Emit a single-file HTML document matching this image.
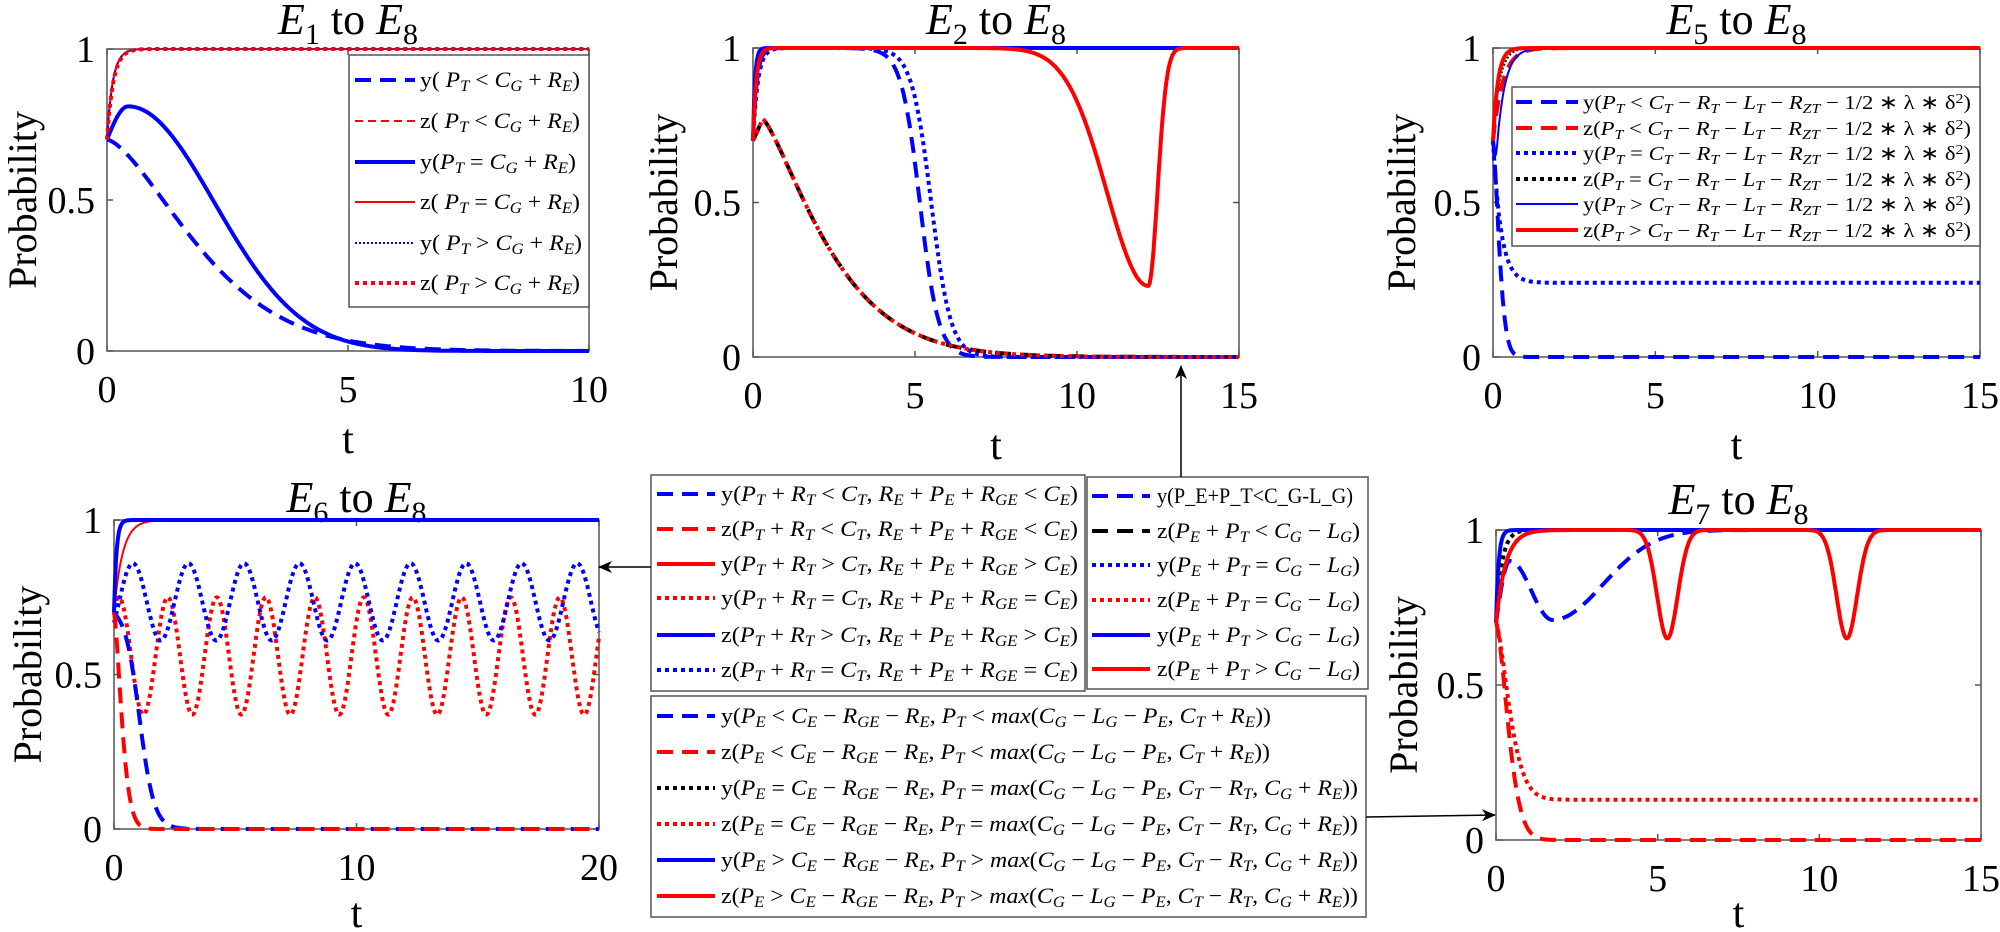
<!DOCTYPE html>
<html><head><meta charset="utf-8"><style>
html,body{margin:0;padding:0;background:#fff;}
svg{display:block;}
text{font-family:"Liberation Serif",serif;fill:#000;}
</style></head><body>
<svg id="s" width="2000" height="932" viewBox="0 0 2000 932" xmlns="http://www.w3.org/2000/svg">
<defs>
<marker id="ah" markerWidth="14" markerHeight="12" refX="13" refY="6" orient="auto" markerUnits="userSpaceOnUse">
<path d="M0,0 L14,6 L0,12 L4,6 Z" fill="#000"/></marker>
</defs>
<g id="g"></g>
</svg>
<script>
const B='#0000ff',R='#ff0000',K='#000000';
const ST={
 dashT:{w:4,d:'16 9'}, dashN:{w:2,d:'8 5'}, solT:{w:4,d:''}, solN:{w:2,d:''},
 dotT:{w:4,d:'4 4'}, dotN:{w:2,d:'2 2'}
};
let out='';
const E=Math.exp;
const sat=(t,tau)=>1-0.3*E(-t/tau);
function esc(c){return c=='<'?'&lt;':c=='>'?'&gt;':c=='&'?'&amp;':c;}
function mk(s,plain){
 let o='',i=0;
 while(i<s.length){
  let c=s[i];
  if(!plain&&(c=='_'||c=='^')){
   let g; if(s[i+1]=='{'){let j=s.indexOf('}',i);g=s.slice(i+2,j);i=j+1;} else {g=s[i+1];i+=2;}
   o+=`<tspan font-size="70%" baseline-shift="${c=='_'?'-25%':'45%'}" font-style="${/[A-Za-z]/.test(g)?'italic':'normal'}">${g}</tspan>`;
  } else if(!plain&&/[A-Za-z]/.test(c)&&i>1){
   let j=i; while(j<s.length&&/[A-Za-z]/.test(s[j]))j++;
   o+=`<tspan font-style="italic">${s.slice(i,j)}</tspan>`; i=j;
  } else {o+=esc(c);i++;}
 }
 return o;
}
function panel(p){
 const {x0,x1,T,yt,yb,ticks,title,sub,ylx}=p;
 const X=t=>x0+(x1-x0)*t/T, Y=v=>yb-(yb-yt)*v;
 out+=`<rect x="${x0}" y="${yt}" width="${x1-x0}" height="${yb-yt}" fill="#fff" stroke="#555" stroke-width="1.5"/>`;
 for(const tk of ticks){const x=X(tk);
  out+=`<line x1="${x}" y1="${yb}" x2="${x}" y2="${yb-6}" stroke="#555" stroke-width="1.5"/><line x1="${x}" y1="${yt}" x2="${x}" y2="${yt+6}" stroke="#555" stroke-width="1.5"/>`;
  out+=`<text x="${x}" y="${yb+51}" font-size="38" text-anchor="middle">${tk}</text>`;}
 for(const v of [0,0.5,1]){const y=Y(v);
  out+=`<line x1="${x0}" y1="${y}" x2="${x0+6}" y2="${y}" stroke="#555" stroke-width="1.5"/><line x1="${x1}" y1="${y}" x2="${x1-6}" y2="${y}" stroke="#555" stroke-width="1.5"/>`;
  out+=`<text x="${x0-12}" y="${y+13}" font-size="38" text-anchor="end">${v}</text>`;}
 out+=`<text x="${(x0+x1)/2}" y="${Math.min(yb+102,927)}" font-size="42" text-anchor="middle">t</text>`;
 const cy=(yt+yb)/2;
 out+=`<text x="${ylx}" y="${cy}" font-size="40" text-anchor="middle" transform="rotate(-90 ${ylx} ${cy})" dy="14">Probability</text>`;
 out+=`<text x="${(x0+x1)/2}" y="${p.ty}" font-size="44" text-anchor="middle"><tspan font-style="italic">E</tspan><tspan font-size="30" baseline-shift="-10">${sub}</tspan> to <tspan font-style="italic">E</tspan><tspan font-size="30" baseline-shift="-10">8</tspan></text>`;
 for(const [f,col,st] of p.curves){
  let d='';const N=500;
  for(let i=0;i<=N;i++){const t=T*i/N;d+=(i?'L':'M')+X(t).toFixed(1)+','+Y(f(t)).toFixed(1);}
  const s=ST[st];
  out+=`<path d="${d}" fill="none" stroke="${col}" stroke-width="${s.w}" ${s.d?`stroke-dasharray="${s.d}"`:''} stroke-linejoin="round"/>`;
 }
}
function legend(x,y,w,h,rows,sx0,sx1,tx,tw,fs,rowsY,plainFirst){
 out+=`<rect x="${x}" y="${y}" width="${w}" height="${h}" fill="#fff" stroke="#555" stroke-width="1.5"/>`;
 rows.forEach((r,i)=>{const [col,st,txt,tl]=r;const yy=rowsY[i];const s=ST[st];
  out+=`<line x1="${sx0}" y1="${yy}" x2="${sx1}" y2="${yy}" stroke="${col}" stroke-width="${s.w}" ${s.d?`stroke-dasharray="${s.d}"`:''}/>`;
  const plain=(plainFirst&&i==0);
  out+=`<text x="${tx}" y="${yy+7}" font-size="${fs}" textLength="${tl||tw}" lengthAdjust="spacingAndGlyphs">${mk(txt,plain)}</text>`;
 });
}
panel({x0:107,x1:589,T:10,yt:49,yb:351,ticks:[0,5,10],sub:'1',ty:34,ylx:22,curves:[
 [t=>0.7*E(-Math.pow(t/2.4,1.5)),B,'dashT'],
 [t=>t<0.44?0.7+0.11*Math.sin(Math.PI/2*t/0.44):0.81*E(-Math.pow((t-0.44)/2.53,2)),B,'solT'],
 [t=>sat(t,0.12),R,'dashN'],
 [t=>sat(t,0.12),R,'solN'],
 [t=>sat(t,0.12),B,'dotN'],
 [t=>sat(t,0.13),R,'dotT'],
]});
legend(349,55,240,252,[
 [B,'dashT','y( P_T < C_G + R_E)',160],
 [R,'dashN','z( P_T < C_G + R_E)',160],
 [B,'solT','y(P_T = C_G + R_E)',156],
 [R,'solN','z( P_T = C_G + R_E)',160],
 [B,'dotN','y( P_T > C_G + R_E)',162],
 [R,'dotT','z( P_T > C_G + R_E)',160],
],355,415,420,160,22,[80,121,162,202,243,283]);
panel({x0:753,x1:1239,T:15,yt:48,yb:357,ticks:[0,5,10,15],sub:'2',ty:34,ylx:663,curves:[
 [t=>Math.min(sat(t,0.12),1/(1+E(3.47*(t-5.15)))),B,'dashT'],
 [t=>t<0.3?0.7+0.07*t/0.3:0.77*E(-Math.pow((t-0.3)/2.47,1.3)),K,'dashT'],
 [t=>Math.min(sat(t,0.15),1/(1+E(3.3*(t-5.5)))),B,'dotT'],
 [t=>t<0.3?0.7+0.07*t/0.3:0.77*E(-Math.pow((t-0.3)/2.47,1.3)),R,'dotT'],
 [t=>sat(t,0.06),B,'solT'],
 [t=>Math.min(sat(t,0.1),t<12.2?1-0.77*E(-Math.pow((12.2-t)/1.8,2)):1-0.77*E(-Math.pow((t-12.2)/0.4,2))),R,'solT'],
]});
panel({x0:1493,x1:1980,T:15,yt:48,yb:357,ticks:[0,5,10,15],sub:'5',ty:34,ylx:1401,curves:[
 [t=>0.24+0.46*E(-t/0.25),B,'dotT'],
 [t=>0.7*E(-Math.pow(t/0.25,1.5)),B,'dashT'],
 [t=>1-0.3*E(-t/0.3),R,'dashT'],
 [t=>sat(t,0.2),K,'dotN'],
 [t=>t<0.1?0.7-0.5*t:1-0.35*E(-(t-0.1)/0.25),B,'solN'],
 [t=>sat(t,0.15),R,'solT'],
]});
const p3t='P_T XX C_T − R_T − L_T − R_{ZT} − 1/2 ∗ λ ∗ δ^2)';
legend(1512,87,468,159,[
 [B,'dashT','y('+p3t.replace('XX','<')],
 [R,'dashT','z('+p3t.replace('XX','<')],
 [B,'dotT','y('+p3t.replace('XX','=')],
 [K,'dotT','z('+p3t.replace('XX','=')],
 [B,'solN','y('+p3t.replace('XX','>')],
 [R,'solT','z('+p3t.replace('XX','>')],
],1516,1578,1583,388,20,[102,128,153,179,204,230]);
panel({x0:114,x1:599,T:20,yt:520,yb:829,ticks:[0,10,20],sub:'6',ty:512,ylx:27,curves:[
 [t=>0.56+0.19*Math.cos(2*Math.PI*(t-0.2)/2.02),R,'dotT'],
 [t=>0.735+0.125*Math.cos(2*Math.PI*(t-0.78)/2.29),B,'dotT'],
 [t=>0.72/(1+E(3.3*(t-1.05))),B,'dashT'],
 [t=>0.7*E(-Math.pow(t/0.42,1.5)),R,'dashT'],
 [t=>1-0.3*E(-t/0.35),R,'solN'],
 [t=>sat(t,0.1),B,'solT'],
]});
panel({x0:1496,x1:1981,T:15,yt:530,yb:840,ticks:[0,5,10,15],sub:'7',ty:514,ylx:1403,curves:[
 [t=>t<0.43?0.7+0.2*Math.sin(Math.PI/2*t/0.43):t<1.75?0.71+0.19*(1+Math.cos(Math.PI*(t-0.43)/1.32))/2:1-0.29*E(-Math.pow((t-1.75)/2.2,2)),B,'dashT'],
 [t=>0.7*E(-Math.pow(t/0.5,1.6)),R,'dashT'],
 [t=>0.13+0.57*E(-Math.pow(t/0.55,1.5)),R,'dotT'],
 [t=>sat(t,0.18),K,'dotT'],
 [t=>sat(t,0.08),B,'solT'],
 [t=>Math.min(sat(t,0.3),(1-0.35*E(-Math.pow((t-5.3)/0.45,2)))*(1-0.35*E(-Math.pow((t-10.85)/0.45,2)))),R,'solT'],
]});
const aT=(v,o)=>v+'(P_T + R_T '+o+' C_T, R_E + P_E + R_{GE} '+o+' C_E)';
legend(651,475,434,216,[
 [B,'dashT',aT('y','<')],[R,'dashT',aT('z','<')],[R,'solT',aT('y','>')],
 [R,'dotT',aT('y','=')],[B,'solT',aT('z','>')],[B,'dotT',aT('z','=')],
],657,715,721,357,22,[494,529,564,598,635,670]);
const bT=(v,o)=>v+'(P_E + P_T '+o+' C_G − L_G)';
legend(1087,477,281,212,[
 [B,'dashT','y(P_E+P_T<C_G-L_G)',196],[K,'dashT',bT('z','<')],[B,'dotT',bT('y','=')],
 [R,'dotT',bT('z','=')],[B,'solT',bT('y','>')],[R,'solT',bT('z','>')],
],1092,1150,1157,203,22,[496,531,565,600,635,669],true);
const c1=(v,o)=>v+'(P_E '+o+' C_E − R_{GE} − R_E, P_T '+o+' max(C_G − L_G − P_E, C_T + R_E))';
const c2=(v,o)=>v+'(P_E '+o+' C_E − R_{GE} − R_E, P_T '+o+' max(C_G − L_G − P_E, C_T − R_T, C_G + R_E))';
legend(651,696,715,221,[
 [B,'dashT',c1('y','<'),550],[R,'dashT',c1('z','<'),549],[K,'dotT',c2('y','='),637],
 [R,'dotT',c2('z','='),637],[B,'solT',c2('y','>'),637],[R,'solT',c2('z','>'),637],
],657,715,721,637,22,[716,752,788,824,860,896]);
out+=`<line x1="1181" y1="477" x2="1181" y2="366" stroke="#000" stroke-width="1.5" marker-end="url(#ah)"/>`;
out+=`<line x1="651" y1="567" x2="599" y2="567" stroke="#000" stroke-width="1.5" marker-end="url(#ah)"/>`;
out+=`<line x1="1366" y1="817" x2="1495" y2="815" stroke="#000" stroke-width="1.5" marker-end="url(#ah)"/>`;
document.getElementById('g').innerHTML=out;
</script>
</body></html>
